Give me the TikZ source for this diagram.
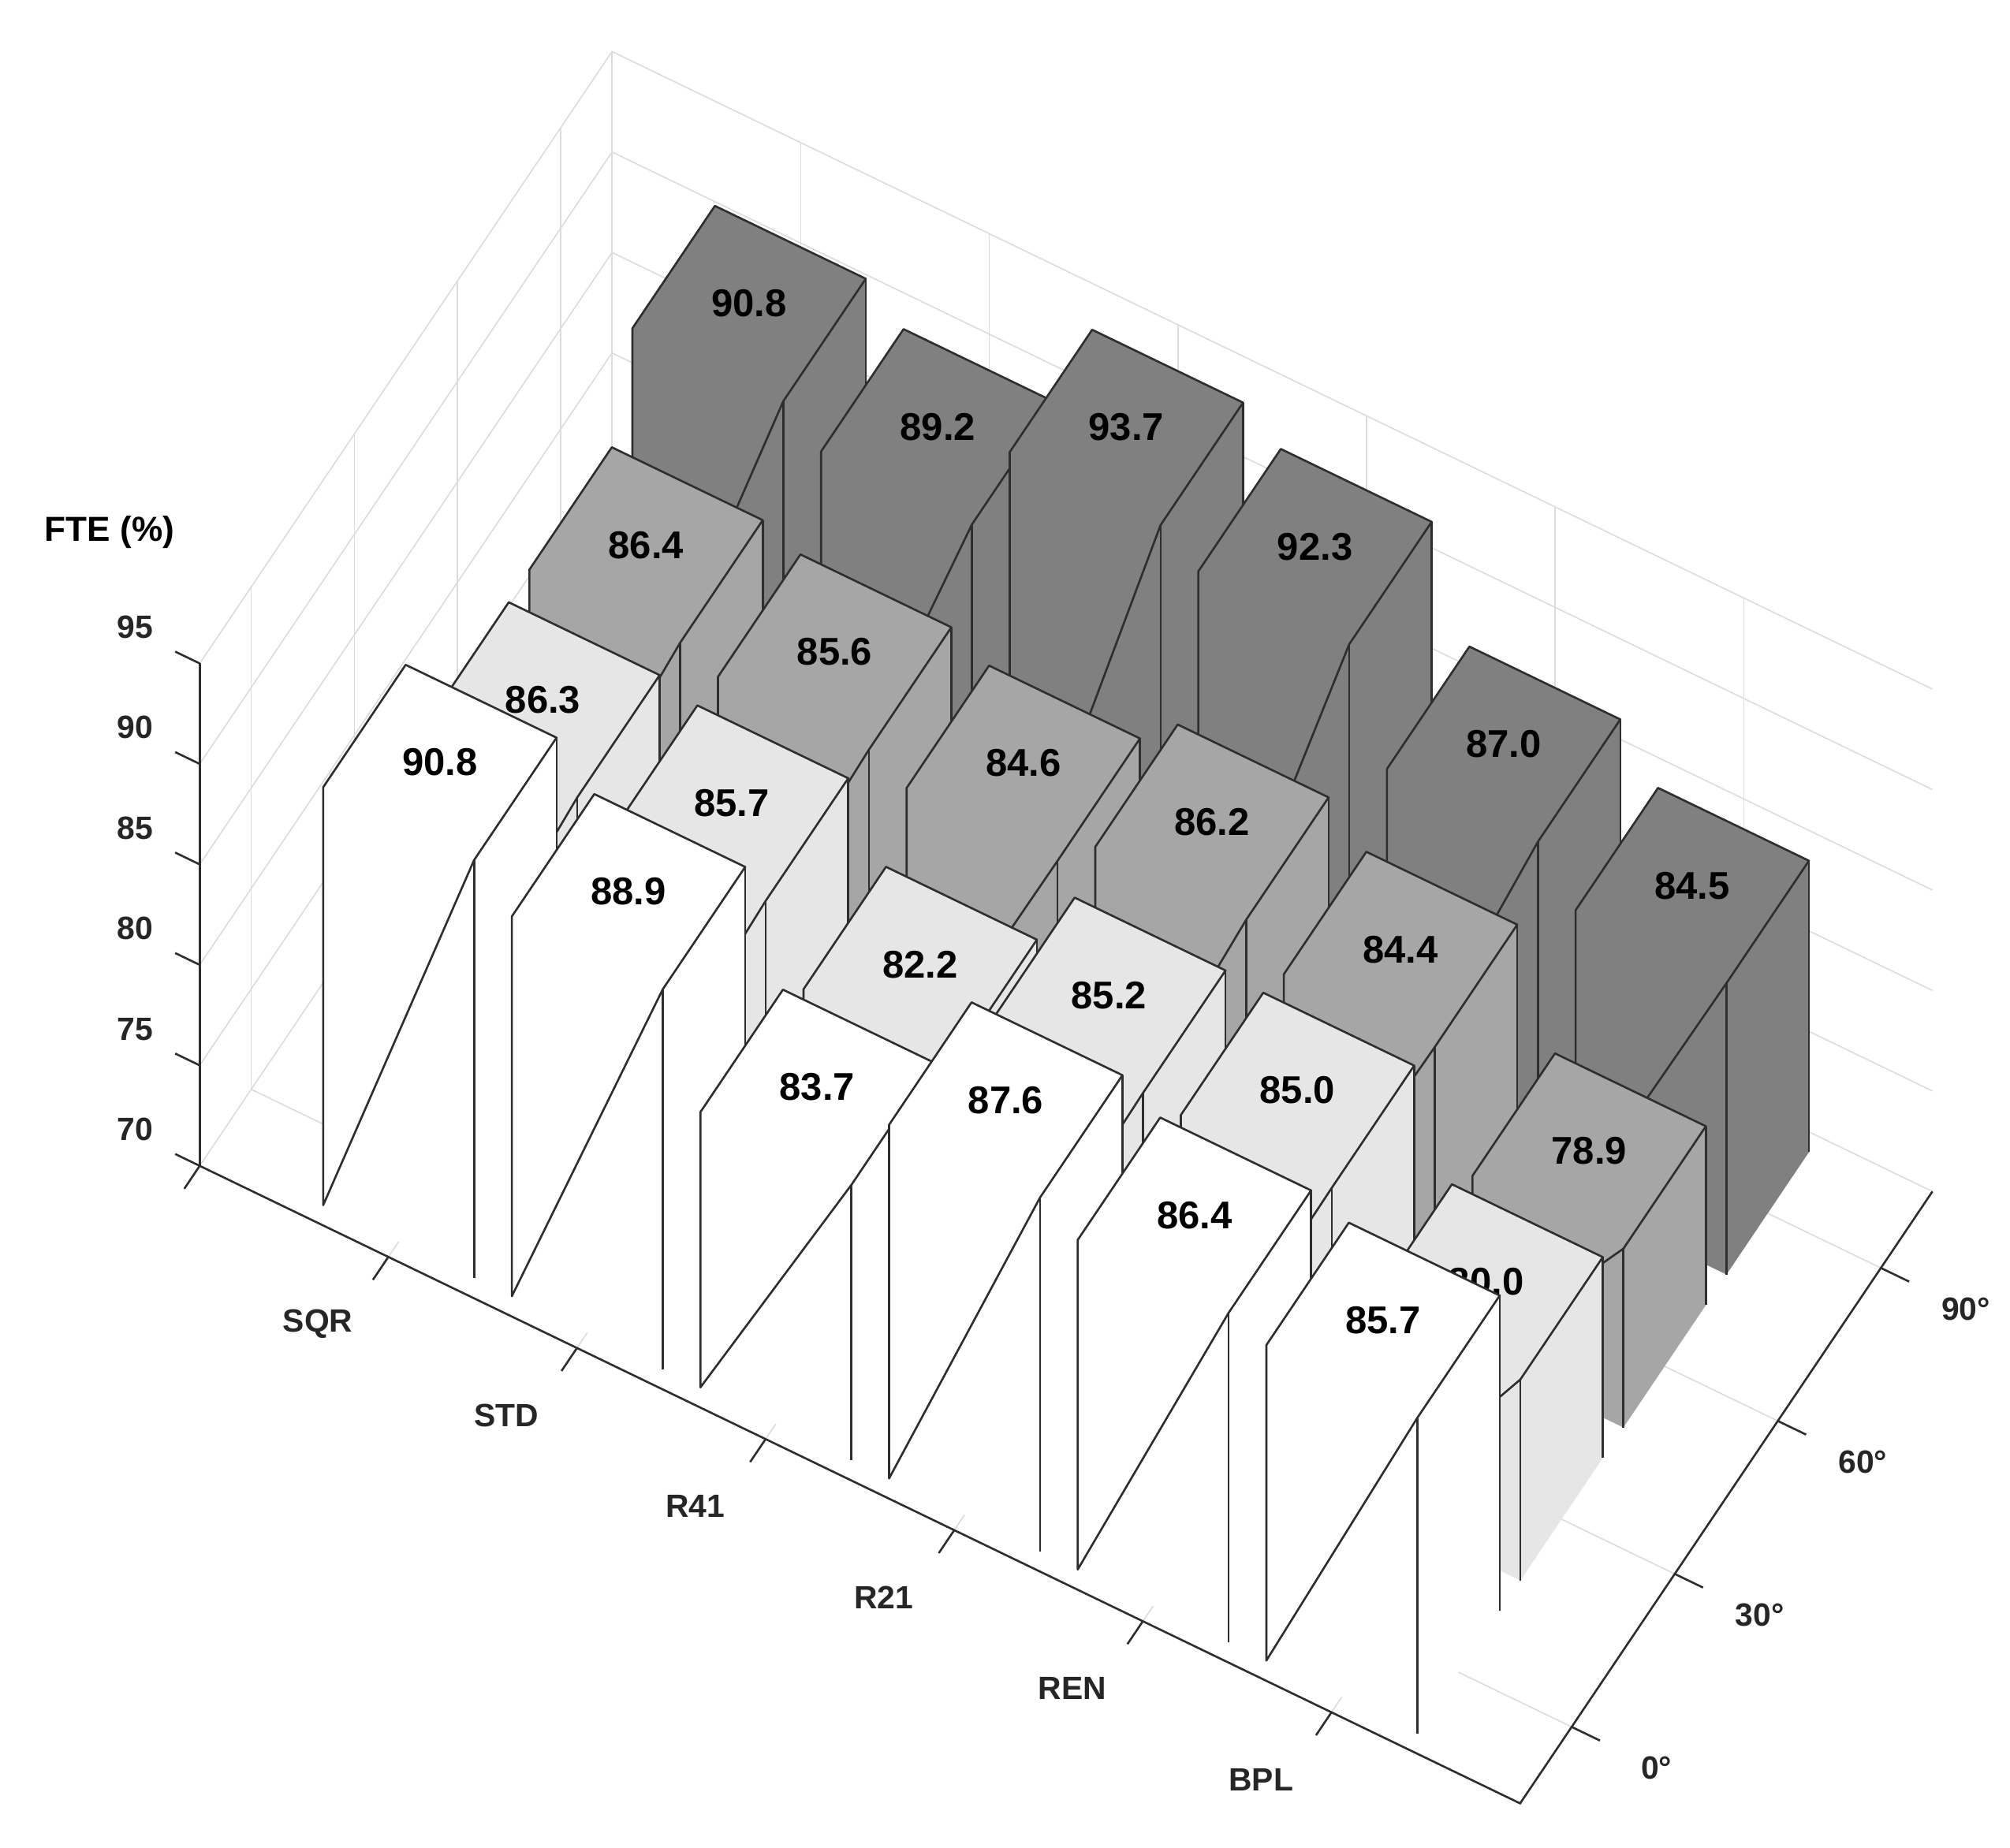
\documentclass[tikz,border=0pt]{standalone}
\usepackage{fontspec}
\setmainfont{Liberation Sans}
\definecolor{gridc}{HTML}{DCDCDC}
\definecolor{edgec}{HTML}{2E2E2E}
\definecolor{cA}{HTML}{FFFFFF}
\definecolor{cB}{HTML}{E6E6E6}
\definecolor{cC}{HTML}{A6A6A6}
\definecolor{cD}{HTML}{808080}
\tikzset{
  gridline/.style={draw=gridc, line width=0.5pt},
  axisline/.style={draw=edgec, line width=0.8pt},
  baredge/.style={draw=edgec, line width=0.8pt, line join=round},
  vallabel/.style={font=\fontsize{15}{18}\selectfont\bfseries},
  ticklabel/.style={font=\fontsize{12.5}{15}\selectfont\bfseries, text=black!85}
}
\begin{document}
\begin{tikzpicture}
\useasboundingbox (0,0) rectangle (780pt,-717pt);
\node[font=\fontsize{13.5}{16}\selectfont\bfseries] (fte) at (42.5pt,-206.5pt) {FTE (\%)};
\begin{scope}[shift={(77.5pt,-452.5pt)}, x={(73.2pt,-35.35pt)}, y={(40pt,59.375pt)}, z={(0pt,7.8pt)}]
% grid: left wall
\foreach \zz in {0,5,...,25} \draw[gridline] (0,0,\zz) -- (0,4,\zz);
\foreach \vv in {0.5,1.5,2.5,3.5,4} \draw[gridline] (0,\vv,0) -- (0,\vv,25);
% back wall
\foreach \zz in {0,5,...,25} \draw[gridline] (0,4,\zz) -- (7,4,\zz);
\foreach \uu in {1,...,6} \draw[gridline] (\uu,4,0) -- (\uu,4,25);
% floor
\foreach \vv in {0.5,1.5,2.5,3.5} \draw[gridline] (0,\vv,0) -- (7,\vv,0);
\foreach \uu in {1,...,6} \draw[gridline] (\uu,0,0) -- (\uu,4,0);
% axes
\coordinate (o) at (0,0,0);
\coordinate (ztop) at (0,0,25);
\coordinate (ue) at (7,0,0);
\coordinate (ve) at (7,4,0);
\draw[axisline] (o) -- (ztop);
\draw[axisline] (o) -- (ue) -- (ve);
\draw[axisline] (0,0,0) -- (0,-0.15,0);
\foreach \zz/\lab in {0/70,5/75,10/80,15/85,20/90,25/95}{
  \draw[axisline] (0,0,\zz) -- (-0.13,0,\zz);
  \node[ticklabel, anchor=east] (zl\lab) at (-0.2,0,\zz+0.9) {\lab};
}
\foreach \uu/\lab in {1/SQR,2/STD,3/R41,4/R21,5/REN,6/BPL}{
  \draw[axisline] (\uu,0,0) -- (\uu,-0.15,0);
  \node[ticklabel] (ul\lab) at (\uu-0.1,-0.5,0) {\lab};
}
\foreach \vv/\lab in {0.5/0,1.5/30,2.5/60,3.5/90}{
  \draw[axisline] (7,\vv,0) -- (7.15,\vv,0);
  \node[ticklabel] (vl\lab) at (7.45,\vv,0) {\lab\textdegree};
}
% bars
\foreach \row/\col/\vals in {
  3/cD/{90.8,89.2,93.7,92.3,87.0,84.5},
  2/cC/{86.4,85.6,84.6,86.2,84.4,78.9},
  1/cB/{86.3,85.7,82.2,85.2,85.0,80.0},
  0/cA/{90.8,88.9,83.7,87.6,86.4,85.7}}{
  \foreach \val [count=\i] in \vals {
    \pgfmathsetmacro{\h}{\val-70}
    \pgfmathsetmacro{\ua}{\i-0.4}
    \pgfmathsetmacro{\ub}{\i+0.4}
    \pgfmathsetmacro{\va}{\row+0.1}
    \pgfmathsetmacro{\vb}{\row+0.9}
    \fill[\col] (\ua,\va,0) -- (\ub,\va,0) -- (\ub,\vb,0) -- (\ub,\vb,\h) -- (\ua,\vb,\h) -- (\ua,\va,\h) -- cycle;
    \draw[baredge] (\ua,\va,0) -- (\ua,\va,\h) -- (\ua,\vb,\h) -- (\ub,\vb,\h) -- (\ub,\va,\h) -- cycle;
    \draw[baredge] (\ub,\va,0) -- (\ub,\va,\h);
    \draw[baredge] (\ub,\vb,0) -- (\ub,\vb,\h);
    \node[vallabel] (b\row-\i) at (\i,\row+0.5,\h) {\val};
  }
}
\end{scope}
\end{tikzpicture}
\end{document}
